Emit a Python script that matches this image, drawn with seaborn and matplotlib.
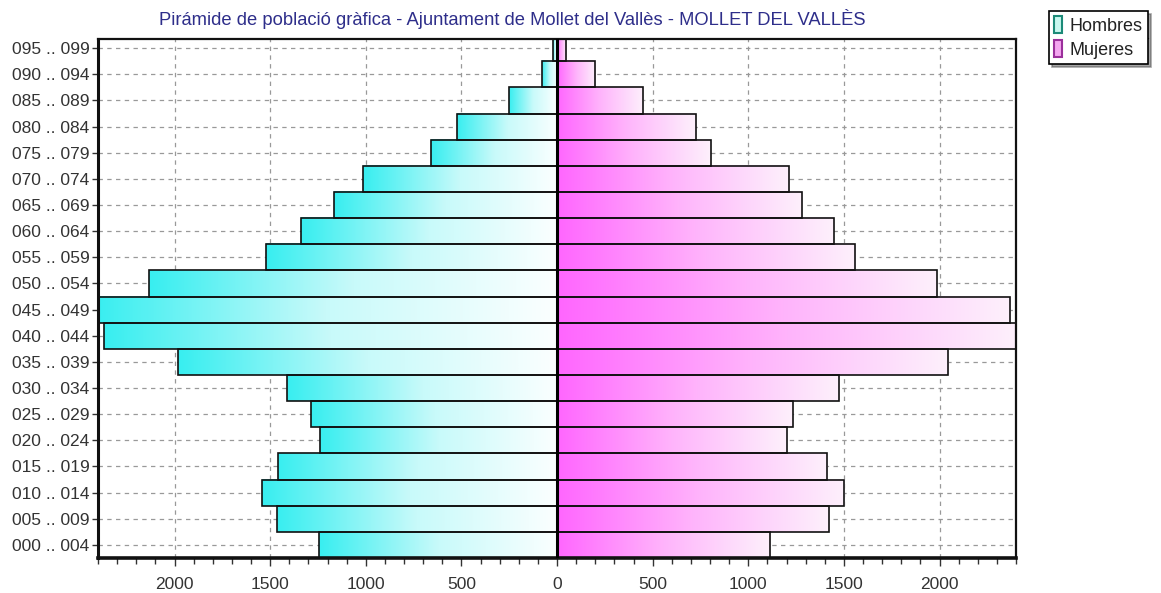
import numpy as np
import pandas as pd
import matplotlib
matplotlib.use("Agg")
import matplotlib.pyplot as plt
import seaborn as sns
from matplotlib.colors import LinearSegmentedColormap
from matplotlib.patches import Patch
from matplotlib.lines import Line2D
from matplotlib.ticker import FixedLocator, MultipleLocator

# ---- data (bottom to top age groups) ----
age_groups = ["000 .. 004", "005 .. 009", "010 .. 014", "015 .. 019", "020 .. 024",
              "025 .. 029", "030 .. 034", "035 .. 039", "040 .. 044", "045 .. 049",
              "050 .. 054", "055 .. 059", "060 .. 064", "065 .. 069", "070 .. 074",
              "075 .. 079", "080 .. 084", "085 .. 089", "090 .. 094", "095 .. 099"]
hombres = [1245, 1464, 1540, 1460, 1240, 1288, 1414, 1980, 2370, 2420,
           2134, 1520, 1338, 1164, 1014, 660, 524, 250, 80, 20]
mujeres = [1115, 1421, 1503, 1412, 1200, 1233, 1473, 2047, 2410, 2369,
           1986, 1560, 1447, 1282, 1212, 803, 725, 452, 200, 48]
series_names = ["Hombres", "Mujeres"]
x_ticks = [-2000, -1500, -1000, -500, 0, 500, 1000, 1500, 2000]
title = "Pirámide de població gràfica - Ajuntament de Mollet del Vallès - MOLLET DEL VALLÈS"

df = pd.DataFrame({
    "age": age_groups * 2,
    "sexo": [series_names[0]] * len(age_groups) + [series_names[1]] * len(age_groups),
    "valor": [-v for v in hombres] + list(mujeres),
})

sns.set_style("white")
plt.rcParams["font.family"] = ["Liberation Sans", "DejaVu Sans"]

XL, XR = -2400, 2400
YB, YT = 19.5, -0.35

fig = plt.figure(figsize=(11.61, 5.93), dpi=100)
ax = fig.add_axes([98 / 1161, 35 / 593, (1016 - 98) / 1161, (558 - 39) / 593])

order = age_groups[::-1]  # top to bottom
sns.barplot(data=df, y="age", x="valor", hue="sexo", order=order,
            hue_order=series_names, dodge=False, width=1.0,
            palette=["#40f0f0", "#ff66ff"], edgecolor="#111111", linewidth=1.2,
            errorbar=None, legend=False, ax=ax, zorder=3)

cm_m = LinearSegmentedColormap.from_list("m", ["#38eef0", "#c8fafa", "#fbffff"])
cm_f = LinearSegmentedColormap.from_list("f", ["#ff66ff", "#ffb4fb", "#fdf0fc"])
for p in list(ax.patches):
    x0, y0 = p.get_x(), p.get_y()
    w, h = p.get_width(), p.get_height()
    if w == 0:
        continue
    xa, xb = min(x0, x0 + w), max(x0, x0 + w)
    ya, yb = min(y0, y0 + h), max(y0, y0 + h)
    cmap = cm_m if xb <= 0 else cm_f
    # gradient spans the bar, drawn only inside the visible axes range
    ca, cb = max(xa, XL), min(xb, XR)
    cya, cyb = max(ya, YT), min(yb, YB)
    f0 = (ca - xa) / (xb - xa)
    f1 = (cb - xa) / (xb - xa)
    g = np.linspace(f0, f1, 256).reshape(1, -1)
    ax.imshow(g, extent=[ca, cb, cyb, cya], aspect="auto", cmap=cmap,
              vmin=0, vmax=1, interpolation="bilinear", zorder=2.5)
    p.set_facecolor("none")
    p.set_zorder(3)

ax.set_aspect("auto")
ax.set_xlim(XL, XR)
ax.set_ylim(YB, YT)

ax.axvline(0, color="black", lw=2.2, zorder=4)

# grid
ax.set_axisbelow(True)
ax.grid(True, which="major", axis="both", color="#999999", lw=0.9,
        linestyle=(0, (3.5, 3.5)), zorder=0)

ax.xaxis.set_major_locator(FixedLocator(x_ticks))
ax.set_xticklabels([str(abs(t)) for t in x_ticks])
ax.xaxis.set_minor_locator(MultipleLocator(100))
ax.tick_params(axis="x", which="major", direction="out", length=6, width=1,
               bottom=True, labelsize=12.5, labelcolor="#333333", pad=8, color="#333333")
ax.tick_params(axis="x", which="minor", direction="out", length=4, width=1,
               bottom=True, color="#333333")
ax.tick_params(axis="y", which="major", direction="out", length=4, width=1,
               left=True, labelsize=12.5, labelcolor="#333333", pad=2, color="#333333")
ax.set_xlabel("")
ax.set_ylabel("")

for side, lw in [("left", 2.2), ("bottom", 2.6), ("top", 1.6), ("right", 1.6)]:
    ax.spines[side].set_visible(True)
    ax.spines[side].set_color("#111111")
    ax.spines[side].set_linewidth(lw)

fig.text(512 / 1161, 1 - 19 / 593, title, ha="center", va="center",
         fontsize=13.2, color="#2e2e8a")

handles = [Patch(facecolor="#c8f7ef", edgecolor="#1c8a78", lw=1.5),
           Patch(facecolor="#f4a6f0", edgecolor="#9b2f9b", lw=1.5)]
leg = fig.legend(handles, series_names, loc="upper right",
                 bbox_to_anchor=(1148 / 1161, 1 - 11 / 593), frameon=True,
                 fancybox=False, shadow=True, edgecolor="black",
                 handlelength=0.45, handleheight=1.0, handletextpad=0.4,
                 borderpad=0.3, labelspacing=0.32, borderaxespad=0,
                 fontsize=13)
leg.get_frame().set_linewidth(1.2)
for t in leg.get_texts():
    t.set_color("#222222")

fig.canvas.draw()
bb = leg.get_window_extent()
ymid = (bb.y0 + bb.y1) / 2
fig.add_artist(Line2D([bb.x0 / fig.bbox.width, bb.x1 / fig.bbox.width],
                      [ymid / fig.bbox.height, ymid / fig.bbox.height],
                      color="black", lw=1.0))

fig.savefig("out.png", dpi=100, facecolor="white")
